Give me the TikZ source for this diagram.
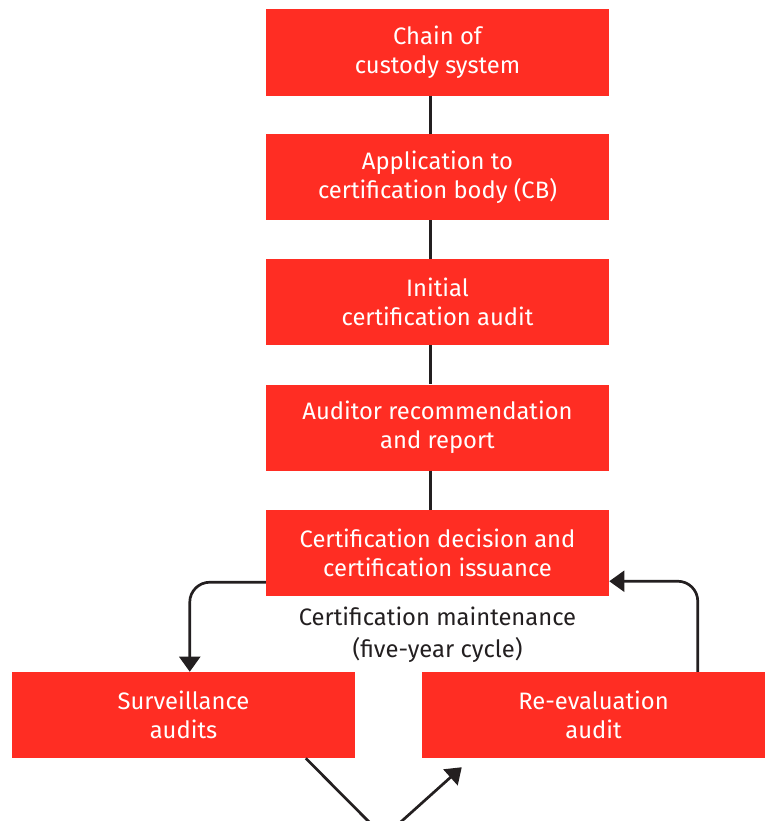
\documentclass[tikz,border=0pt]{standalone}
\usepackage{fontspec}
\setmainfont{Fira Sans}
\usetikzlibrary{arrows.meta,calc}

\definecolor{boxred}{RGB}{255,45,35}
\definecolor{linedark}{RGB}{35,31,32}

\begin{document}
\begin{tikzpicture}[x=0.03cm, y=-0.03cm,
    stepbox/.style={fill=boxred, text=white, align=center, inner sep=0pt,
        minimum width=10.29cm, minimum height=2.58cm,
        font=\fontsize{20.3}{24.7}\selectfont},
    link/.style={linedark, line width=2.3pt},
    flow/.style={link, rounded corners=0.6cm,
        -{Triangle[length=13pt,width=18pt]}}]

% Page frame
\useasboundingbox (0,0) rectangle (768,821);
\clip (0,0) rectangle (768,821);

% Process steps
\node[stepbox] (chain) at (437.5,52.5) {Chain of\\custody system};
\node[stepbox] (apply) at (437.5,177) {Application to\\certification body (CB)};
\node[stepbox] (initial) at (437.5,302) {Initial\\certification audit};
\node[stepbox] (report) at (437.5,427.5) {Auditor recommendation\\and report};
\node[stepbox] (decision) at (437.5,553) {Certification decision and\\certification issuance};

% Maintenance cycle
\node[stepbox] (surv) at (183.5,715) {Surveillance\\audits};
\node[stepbox] (reeval) at (593.5,715) {Re-evaluation\\audit};
\node[text=linedark, align=center, font=\fontsize{20.3}{27}\selectfont]
    (cycle) at (437.5,635) {Certification maintenance\\(five-year cycle)};

% Connecting lines
\draw[link] ([xshift=-0.2cm]chain.south) -- ([xshift=-0.2cm]apply.north);
\draw[link] ([xshift=-0.2cm]apply.south) -- ([xshift=-0.2cm]initial.north);
\draw[link] ([xshift=-0.2cm]initial.south) -- ([xshift=-0.2cm]report.north);
\draw[link] ([xshift=-0.2cm]report.south) -- ([xshift=-0.2cm]decision.north);

% Cycle arrows
\draw[flow] ($(decision.south west)+(0,-14)$) -| ($(surv.north west)+(178,0)$);
\draw[flow] ($(reeval.north west)+(276,0)$) |- ($(decision.south east)+(0,-15)$);
\draw[flow] ($(surv.south west)+(294,0)$) -- (384,837) -- ($(reeval.south west)+(40,9)$);

\end{tikzpicture}
\end{document}
